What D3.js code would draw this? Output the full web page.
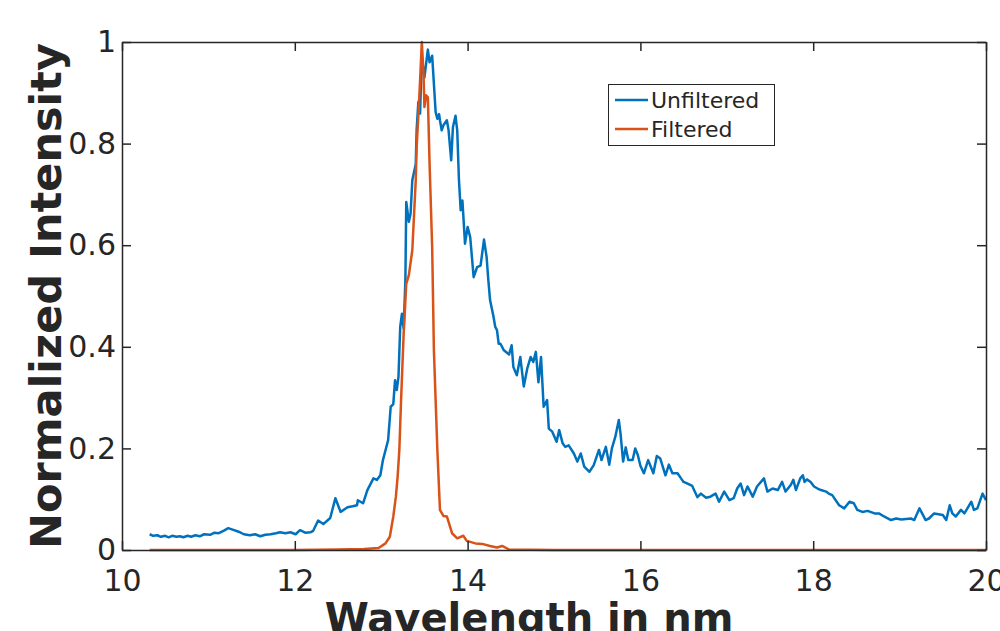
<!DOCTYPE html>
<html>
<head>
<meta charset="utf-8">
<script src="https://cdn.jsdelivr.net/npm/d3@7"></script>
<style>
  html, body { margin: 0; padding: 0; background: #fff; }
  svg { display: block; }
  text { font-family: "DejaVu Sans", sans-serif; fill: #262626; }
</style>
</head>
<body>
<svg id="chart" width="1000" height="631"></svg>
<script>
// ---- data ----
const seriesNames = ["Unfiltered", "Filtered"];
const xTicks = [10, 12, 14, 16, 18, 20];
const yTicks = [0, 0.2, 0.4, 0.6, 0.8, 1];
const yTickLabels = ["0", "0.2", "0.4", "0.6", "0.8", "1"];

const unfilteredWl = [10.32,10.36,10.41,10.45,10.50,10.54,10.58,10.63,10.67,10.71,10.76,10.80,10.85,10.90,10.95,11.02,11.07,11.12,11.18,11.23,11.28,11.35,11.41,11.48,11.54,11.60,11.66,11.72,11.78,11.83,11.89,11.95,12.01,12.06,12.12,12.18,12.21,12.27,12.33,12.41,12.47,12.53,12.61,12.67,12.72,12.73,12.79,12.84,12.91,12.95,12.99,13.02,13.08,13.11,13.14,13.16,13.18,13.20,13.22,13.24,13.26,13.28,13.29,13.32,13.34,13.36,13.40,13.41,13.43,13.45,13.47,13.50,13.54,13.56,13.59,13.63,13.65,13.67,13.68,13.70,13.72,13.76,13.78,13.81,13.83,13.86,13.88,13.90,13.92,13.94,13.97,14.00,14.03,14.07,14.11,14.15,14.19,14.22,14.24,14.26,14.30,14.32,14.34,14.36,14.38,14.42,14.48,14.51,14.53,14.57,14.61,14.65,14.69,14.73,14.76,14.79,14.82,14.85,14.88,14.92,14.94,14.98,15.03,15.06,15.10,15.13,15.17,15.23,15.27,15.31,15.35,15.41,15.46,15.52,15.55,15.60,15.64,15.67,15.71,15.75,15.77,15.80,15.83,15.86,15.91,15.94,15.97,16.00,16.04,16.09,16.15,16.19,16.23,16.29,16.33,16.37,16.43,16.47,16.50,16.54,16.60,16.66,16.70,16.76,16.81,16.87,16.91,16.97,17.03,17.08,17.12,17.16,17.20,17.24,17.30,17.35,17.43,17.47,17.53,17.59,17.64,17.68,17.74,17.77,17.80,17.85,17.88,17.90,17.93,17.97,18.01,18.05,18.09,18.15,18.18,18.22,18.30,18.36,18.42,18.47,18.51,18.57,18.63,18.71,18.76,18.82,18.90,18.96,19.02,19.13,19.17,19.23,19.27,19.30,19.34,19.40,19.50,19.54,19.58,19.61,19.65,19.71,19.75,19.83,19.86,19.90,19.96,20.00];
const unfilteredVal = [0.031,0.028,0.029,0.026,0.028,0.025,0.028,0.026,0.027,0.025,0.028,0.026,0.029,0.027,0.031,0.030,0.034,0.033,0.038,0.043,0.040,0.036,0.031,0.029,0.031,0.027,0.030,0.031,0.033,0.035,0.033,0.035,0.031,0.039,0.034,0.035,0.037,0.058,0.051,0.063,0.102,0.075,0.084,0.086,0.088,0.098,0.092,0.118,0.141,0.138,0.147,0.177,0.216,0.282,0.287,0.334,0.315,0.341,0.439,0.465,0.436,0.531,0.685,0.646,0.662,0.728,0.760,0.826,0.882,0.859,0.970,0.930,0.985,0.960,0.973,0.862,0.849,0.858,0.846,0.826,0.836,0.846,0.826,0.767,0.832,0.855,0.826,0.728,0.669,0.688,0.603,0.636,0.616,0.537,0.557,0.560,0.611,0.577,0.531,0.492,0.459,0.439,0.433,0.406,0.406,0.393,0.385,0.403,0.360,0.344,0.380,0.322,0.357,0.380,0.370,0.390,0.330,0.380,0.282,0.295,0.239,0.233,0.213,0.236,0.210,0.203,0.206,0.190,0.174,0.190,0.164,0.154,0.167,0.197,0.177,0.203,0.168,0.200,0.223,0.256,0.229,0.174,0.202,0.177,0.177,0.200,0.187,0.166,0.151,0.177,0.151,0.185,0.180,0.147,0.168,0.151,0.151,0.141,0.134,0.131,0.126,0.104,0.111,0.103,0.105,0.111,0.095,0.115,0.098,0.102,0.121,0.131,0.108,0.125,0.105,0.125,0.141,0.115,0.121,0.118,0.134,0.115,0.128,0.138,0.118,0.141,0.147,0.134,0.139,0.134,0.125,0.121,0.118,0.115,0.111,0.108,0.088,0.082,0.095,0.092,0.079,0.075,0.077,0.072,0.072,0.066,0.059,0.062,0.060,0.062,0.059,0.082,0.069,0.059,0.062,0.072,0.069,0.059,0.088,0.072,0.066,0.079,0.072,0.095,0.079,0.082,0.111,0.098];

const filteredWl = [10.32,11.00,12.00,12.50,12.80,12.97,13.05,13.10,13.14,13.17,13.19,13.21,13.23,13.26,13.29,13.32,13.36,13.40,13.41,13.43,13.45,13.47,13.49,13.50,13.52,13.54,13.56,13.59,13.61,13.65,13.68,13.72,13.76,13.82,13.88,13.95,13.99,14.09,14.17,14.26,14.34,14.40,14.48,15.00,16.00,17.00,18.00,19.00,20.00];
const filteredVal = [0,0,0,0.001,0.002,0.004,0.013,0.026,0.066,0.105,0.144,0.197,0.295,0.426,0.524,0.541,0.590,0.728,0.793,0.855,0.924,1.000,0.937,0.872,0.895,0.891,0.760,0.596,0.393,0.197,0.079,0.067,0.066,0.033,0.023,0.028,0.018,0.013,0.012,0.008,0.005,0.008,0.001,0,0,0,0,0,0];

const colors = ["#0072BD", "#D95319"];

// ---- layout ----
const svg = d3.select("#chart");
const L = 122, R = 986, T = 42, B = 550;
const x = d3.scaleLinear().domain([10, 20]).range([L, R]);
const y = d3.scaleLinear().domain([0, 1]).range([B, T]);
const axisColor = "#262626";

const series = [
  unfilteredWl.map((w, i) => [w, unfilteredVal[i]]),
  filteredWl.map((w, i) => [w, filteredVal[i]])
];

const line = d3.line().x(d => x(d[0])).y(d => y(d[1]));

svg.append("defs").append("clipPath").attr("id", "clip")
  .append("rect").attr("x", L).attr("y", T - 2).attr("width", R - L).attr("height", B - T + 4);

const g = svg.append("g").attr("clip-path", "url(#clip)");
series.forEach((s, i) => {
  g.append("path").datum(s)
    .attr("fill", "none")
    .attr("stroke", colors[i])
    .attr("stroke-width", 2.5)
    .attr("stroke-linejoin", "round")
    .attr("d", line);
});

// axes
const tickLen = 9;
function styleAxis(sel) {
  sel.select(".domain").attr("stroke", axisColor).attr("stroke-width", 1.5);
  sel.selectAll(".tick line").attr("stroke", axisColor).attr("stroke-width", 1.5);
  sel.selectAll(".tick text").attr("font-size", 30).attr("fill", axisColor)
    .style("font-family", "'DejaVu Sans', sans-serif");
}
const xBottom = svg.append("g").attr("transform", `translate(0,${B})`)
  .call(d3.axisBottom(x).tickValues(xTicks).tickSizeInner(-tickLen).tickSizeOuter(0).tickPadding(20).tickFormat(d3.format("d")));
styleAxis(xBottom);
const xTop = svg.append("g").attr("transform", `translate(0,${T})`)
  .call(d3.axisTop(x).tickValues(xTicks).tickSizeInner(-tickLen).tickSizeOuter(0).tickFormat(""));
styleAxis(xTop);
const yLeft = svg.append("g").attr("transform", `translate(${L},0)`)
  .call(d3.axisLeft(y).tickValues(yTicks).tickSizeInner(-tickLen).tickSizeOuter(0).tickPadding(6)
    .tickFormat((d, i) => yTickLabels[i]));
styleAxis(yLeft);
const yRight = svg.append("g").attr("transform", `translate(${R},0)`)
  .call(d3.axisRight(y).tickValues(yTicks).tickSizeInner(-tickLen).tickSizeOuter(0).tickFormat(""));
styleAxis(yRight);

// axis labels
svg.append("text")
  .attr("x", 529).attr("y", 632)
  .attr("text-anchor", "middle")
  .attr("font-size", 40).attr("font-weight", "bold")
  .text("Wavelength in nm");
svg.append("text")
  .attr("transform", `translate(61,${(T + B) / 2}) rotate(-90)`)
  .attr("text-anchor", "middle")
  .attr("font-size", 43).attr("font-weight", "bold")
  .text("Normalized Intensity");

// legend
const lg = svg.append("g");
lg.append("rect").attr("x", 608.5).attr("y", 84.5).attr("width", 166).attr("height", 61)
  .attr("fill", "#fff").attr("stroke", axisColor).attr("stroke-width", 1);
seriesNames.forEach((name, i) => {
  const yy = 100 + i * 29;
  lg.append("line").attr("x1", 615).attr("x2", 648).attr("y1", yy).attr("y2", yy)
    .attr("stroke", colors[i]).attr("stroke-width", 2.5);
  lg.append("text").attr("x", 651).attr("y", yy + 8)
    .attr("font-size", 22).text(name);
});
</script>
</body>
</html>
